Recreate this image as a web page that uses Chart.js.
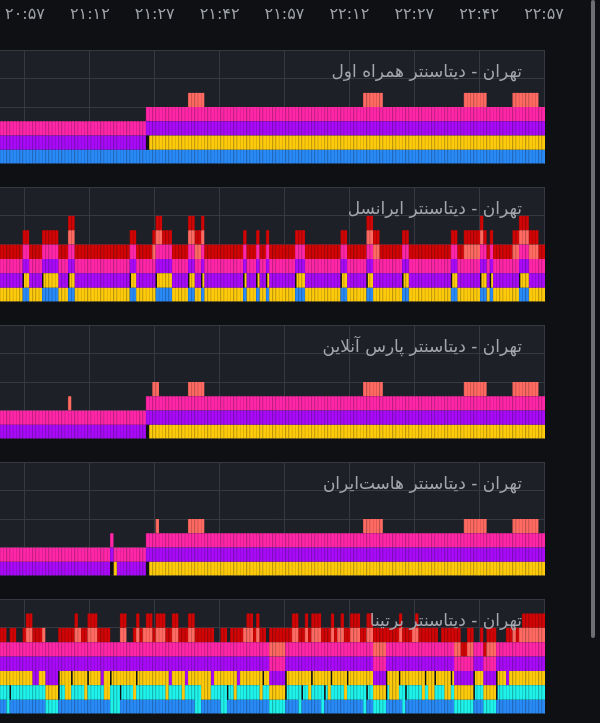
<!DOCTYPE html>
<html>
<head>
<meta charset="utf-8">
<script src="https://cdn.jsdelivr.net/npm/chart.js@4.4.1/dist/chart.umd.min.js"></script>
<style>
  html, body { margin: 0; padding: 0; background: #0e1014; width: 600px; height: 723px; overflow: hidden; }
  .panel { position: absolute; left: 0; width: 545px; }
  #scroll { position: absolute; left: 591px; top: 0; width: 4px; height: 638px; background: #6c6e73; border-radius: 2px; }
</style>
</head>
<body>
<div class="panel" style="top:0;height:164px;width:590px"><canvas id="c0"></canvas></div>
<div class="panel" style="top:187px;height:115px"><canvas id="c1"></canvas></div>
<div class="panel" style="top:325px;height:114px"><canvas id="c2"></canvas></div>
<div class="panel" style="top:462px;height:114px"><canvas id="c3"></canvas></div>
<div class="panel" style="top:599px;height:115px"><canvas id="c4"></canvas></div>
<div id="scroll"></div>
<script>
// 45 second slots, 168 of them, written in blocks of 10
var tickLabels = ["۲۰:۵۷", "۲۱:۱۲", "۲۱:۲۷", "۲۱:۴۲", "۲۱:۵۷", "۲۲:۱۲", "۲۲:۲۷", "۲۲:۴۲", "۲۲:۵۷"];
var panelTitles = [
  "تهران - دیتاسنتر همراه اول",
  "تهران - دیتاسنتر ایرانسل",
  "تهران - دیتاسنتر پارس آنلاین",
  "تهران - دیتاسنتر هاست‌ایران",
  "تهران - دیتاسنتر برتینا"
];

var allOnes = "1111111111 1111111111 1111111111 1111111111 1111111111 1111111111 1111111111 1111111111 1111111111 1111111111 1111111111 1111111111 1111111111 1111111111 1111111111 1111111111 11111111";

// hamrah aval
var hamrahBlue   = allOnes;
var hamrahDark   = "0000000000 0000000000 0000000000 0000000000 0000010000 0000000000 0000000000 0000000000 0000000000 0000000000 0000000000 0000000000 0000000000 0000000000 0000000000 0000000000 00000000";
var hamrahYellow = "0000000000 0000000000 0000000000 0000000000 0000001111 1111111111 1111111111 1111111111 1111111111 1111111111 1111111111 1111111111 1111111111 1111111111 1111111111 1111111111 11111111";
var hamrahPurple = allOnes;
var hamrahPink   = allOnes;
var hamrahSalmon = "0000000000 0000000000 0000000000 0000000000 0000000000 0000000011 1110000000 0000000000 0000000000 0000000000 0000000000 0011111100 0000000000 0000000000 0001111111 0000000011 11111100";

// irancell
var irancellBlue   = "0000000110 0001111100 0110000000 0000000000 1100000011 1110000011 0010000000 0000010001 0010000000 0111000000 0000011000 0001100000 0000110000 0000000001 1000000011 0100000000 11100000";
var irancellYellow = allOnes;
var irancellPurple = allOnes;
var irancellPink   = allOnes;
var irancellSalmon = "0000000000 0000000000 0110000000 0000000000 0000000111 0000000011 1110000000 0000000000 0000000000 0000000000 0000000000 0001111000 0000000000 0000000000 0001111110 0000000011 11111100";
var irancellRed    = allOnes;

// pars online
var parsDark   = hamrahDark;
var parsYellow = hamrahYellow;
var parsPurple = allOnes;
var parsPink   = allOnes;
var parsSalmon = "0000000000 0000000000 0100000000 0000000000 0000000110 0000000011 1110000000 0000000000 0000000000 0000000000 0000000000 0011111100 0000000000 0000000000 0001111111 0000000011 11111100";

// host iran
var hostDark   = "0000000000 0000000000 0000000000 0000100000 0000010000 0000000000 0000000000 0000000000 0000000000 0000000000 0000000000 0000000000 0000000000 0000000000 0000000000 0000000000 00000000";
var hostYellow = "0000000000 0000000000 0000000000 0000010000 0000001111 1111111111 1111111111 1111111111 1111111111 1111111111 1111111111 1111111111 1111111111 1111111111 1111111111 1111111111 11111111";
var hostPurple = "1111111111 1111111111 1111111111 1111101111 1111111111 1111111111 1111111111 1111111111 1111111111 1111111111 1111111111 1111111111 1111111111 1111111111 1111111111 1111111111 11111111";
var hostPink   = allOnes;
var hostSalmon = "0000000000 0000000000 0000000000 0000000000 0000000010 0000000011 1110000000 0000000000 0000000000 0000000000 0000000000 0011111100 0000000000 0000000000 0001111111 0000000011 11111100";

// bertina
var bertinaBlue   = "1101111111 1111000011 1111111111 1111000111 1111111111 1111111111 0011111100 1111111111 1110000011 1101111110 1111111111 1101100001 1111011111 1111111111 0000001110 0001111111 11111111";
var bertinaCyan   = "1121111111 1111111111 0011110111 1100222111 1011111111 1011110111 2200011122 1101111111 0111111111 1121101112 1011110111 1121111111 0001211111 0100111001 1111111111 1111111111 11111111";
var bertinaYellow = "1111111111 0011111111 2211112111 1022111111 1211111111 1201112011 1122201111 1120111111 2111111111 1111121111 1211112111 1111111111 2221111111 2122111221 1111111111 1111110111 11111111";
var bertinaPurple = "1111111111 2211222211 1111111111 1211111111 1111111111 1121111211 1111121111 1112111111 1111111111 1111111111 1111111111 1111111111 1111111111 1111111111 1111111111 1111112111 11111111";
var bertinaPink   = allOnes;
var bertinaSalmon = "0000000011 0001000000 0001100111 0000000110 0010111011 1001100011 0000000000 0000011101 0001111100 1100101110 0010110011 1001111110 0001000110 0000000000 1100110000 1110000010 11111111";
var bertinaRed    = "1101100111 1110000011 1111011111 1111000110 0111011111 1111111111 1111110011 0111101111 1101111111 1111111111 1111011111 1111111111 1111111011 1111101111 1111110011 1110001101 01111111";

var colors = {
  blue:   ["#2a8af5", "#2176d8"],
  cyan:   ["#1ef2ea", "#18cdc6"],
  dark:   ["#111216", "#111216"],
  yellow: ["#fdca0c", "#dcae08"],
  purple: ["#a80af7", "#900bd4"],
  pink:   ["#ff27a8", "#df1f92"],
  salmon: ["#ff6b62", "#e05a53"],
  red:    ["#d10505", "#b00404"]
};
var order = ["blue", "cyan", "dark", "yellow", "purple", "pink", "salmon", "red"];
var slitSeries = { yellow: true, cyan: true };

function parse(s) {
  return s.replace(/\s+/g, "").split("").map(Number);
}

function makePanel(id, series, title, showTicks) {
  var slots = parse(allOnes).map(function (v, i) { return i; });
  var parsed = {};
  order.forEach(function (k) { if (series[k]) parsed[k] = parse(series[k]); });

  // how much of the stack sits under series k at slot i
  function baseOf(k, i) {
    var b = 0;
    for (var n = 0; n < order.length && order[n] !== k; n++) {
      if (parsed[order[n]]) b += parsed[order[n]][i];
    }
    return b;
  }
  function isSlit(k, i) {
    if (!slitSeries[k] || i === 0) return false;
    var d = parsed[k];
    return d[i] > 0 && baseOf(k, i) > baseOf(k, i - 1);
  }

  var datasets = [];
  order.forEach(function (k) {
    if (!parsed[k]) return;
    datasets.push({
      label: k,
      data: parsed[k],
      backgroundColor: colors[k][0],
      borderColor: function (c) { return isSlit(k, c.dataIndex) ? "#111216" : colors[k][1]; },
      borderWidth: function (c) {
        return { left: isSlit(k, c.dataIndex) ? 2 : 1, right: 0, top: 0, bottom: 0 };
      },
      borderSkipped: false,
      barPercentage: 1,
      categoryPercentage: 1
    });
  });

  var panelPlugin = {
    id: "panel" + id,
    beforeDraw: function (chart) {
      var a = chart.chartArea, ctx = chart.ctx;
      ctx.save();
      ctx.fillStyle = "#1e2027";
      ctx.fillRect(a.left, a.top, a.right - a.left, a.bottom - a.top);
      ctx.restore();
    },
    afterDatasetsDraw: function (chart) {
      var a = chart.chartArea, ctx = chart.ctx;
      ctx.save();
      ctx.font = "17px 'DejaVu Sans'";
      ctx.fillStyle = "#a3a6ad";
      ctx.direction = "rtl";
      ctx.textAlign = "right";
      ctx.textBaseline = "middle";
      ctx.fillText(title, a.right - 23, a.top + 23);
      ctx.restore();
    }
  };

  return new Chart(document.getElementById(id), {
    type: "bar",
    data: { labels: slots, datasets: datasets },
    options: {
      responsive: true,
      maintainAspectRatio: false,
      animation: false,
      // the top panel's canvas is wider so the last time label is not cut
      layout: { padding: { left: 0, top: 0, bottom: 0, right: showTicks ? 45 : 0 }, autoPadding: false },
      plugins: { legend: { display: false }, tooltip: { enabled: false } },
      scales: {
        x: { stacked: true, display: false },
        time: {
          type: "linear",
          position: "top",
          min: -5.775,
          max: 120.225,
          offset: false,
          grid: { color: "#363942", lineWidth: 1, drawTicks: false, offset: false },
          border: { display: false },
          ticks: {
            display: showTicks,
            stepSize: 15,
            includeBounds: false,
            autoSkip: false,
            maxRotation: 0,
            padding: 26,
            color: "#9ea1a7",
            font: { family: "DejaVu Sans", size: 16 },
            callback: function (v) { return tickLabels[Math.round(v / 15)]; }
          },
          afterFit: function (s) {
            s.height = showTicks ? 50 : 0;
            s.paddingLeft = 0;
            s.paddingRight = 0;
          }
        },
        y: {
          stacked: true,
          min: 0,
          max: 8,
          grid: { color: "#363942", lineWidth: 1, drawTicks: false },
          border: { display: false },
          ticks: { display: false, stepSize: 2 },
          afterFit: function (s) { s.width = 0; }
        }
      }
    },
    plugins: [panelPlugin]
  });
}

makePanel("c0", { blue: hamrahBlue, dark: hamrahDark, yellow: hamrahYellow, purple: hamrahPurple, pink: hamrahPink, salmon: hamrahSalmon }, panelTitles[0], true);
makePanel("c1", { blue: irancellBlue, yellow: irancellYellow, purple: irancellPurple, pink: irancellPink, salmon: irancellSalmon, red: irancellRed }, panelTitles[1], false);
makePanel("c2", { dark: parsDark, yellow: parsYellow, purple: parsPurple, pink: parsPink, salmon: parsSalmon }, panelTitles[2], false);
makePanel("c3", { dark: hostDark, yellow: hostYellow, purple: hostPurple, pink: hostPink, salmon: hostSalmon }, panelTitles[3], false);
makePanel("c4", { blue: bertinaBlue, cyan: bertinaCyan, yellow: bertinaYellow, purple: bertinaPurple, pink: bertinaPink, salmon: bertinaSalmon, red: bertinaRed }, panelTitles[4], false);
</script>
</body>
</html>
